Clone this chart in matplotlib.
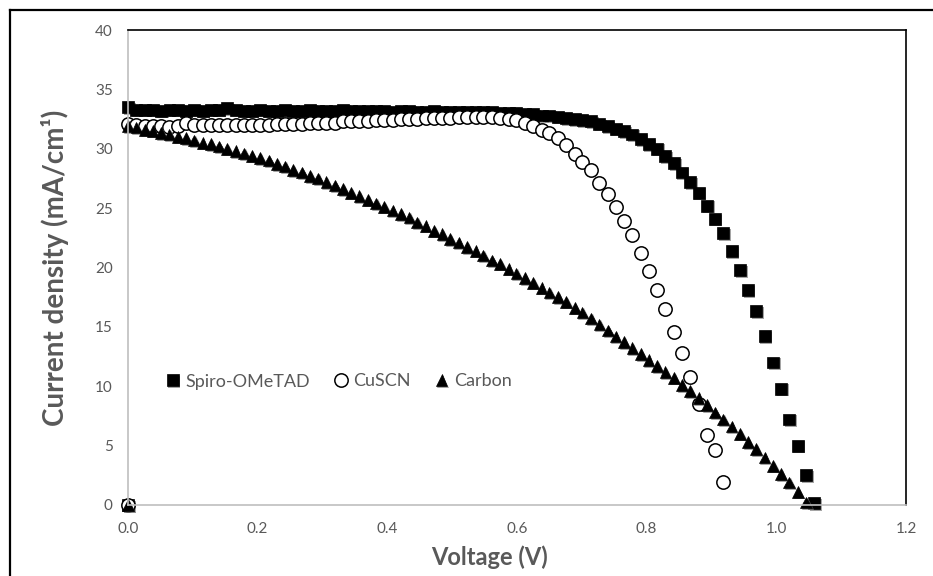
import matplotlib
matplotlib.use("Agg")
import matplotlib.pyplot as plt
import matplotlib.patheffects as pe
from matplotlib.lines import Line2D

# J-V data (first point of each series is the 0,0 point)
voltage = [0.0, 0.0, 0.013, 0.026, 0.038, 0.051, 0.064, 0.077, 0.089, 0.102, 0.115,
           0.128, 0.140, 0.153, 0.166, 0.179, 0.191, 0.204, 0.217, 0.230, 0.242,
           0.255, 0.268, 0.281, 0.293, 0.306, 0.319, 0.332, 0.344, 0.357, 0.370,
           0.383, 0.395, 0.408, 0.421, 0.434, 0.446, 0.459, 0.472, 0.485, 0.497,
           0.510, 0.523, 0.536, 0.548, 0.561, 0.574, 0.587, 0.599, 0.612, 0.625,
           0.638, 0.650, 0.663, 0.676, 0.689, 0.701, 0.714, 0.727, 0.740, 0.752,
           0.765, 0.778, 0.791, 0.803, 0.816, 0.829, 0.842, 0.854, 0.867, 0.880,
           0.893, 0.905, 0.918, 0.931, 0.944, 0.956, 0.969, 0.982, 0.995, 1.007,
           1.020, 1.033, 1.046, 1.058]

spiro = [0.0, 33.5,
         33.3, 33.3, 33.3, 33.2, 33.3, 33.3, 33.2, 33.3, 33.2, 33.3,
         33.3, 33.4, 33.3, 33.2, 33.2, 33.3, 33.2, 33.2, 33.3, 33.2,
         33.2, 33.3, 33.2, 33.2, 33.2, 33.3, 33.2, 33.2, 33.2, 33.2,
         33.2, 33.1, 33.2, 33.2, 33.1, 33.1, 33.2, 33.1, 33.1, 33.1,
         33.1, 33.1, 33.1, 33.1, 33.0, 33.0, 33.0, 32.9, 32.9, 32.8,
         32.8, 32.7, 32.6, 32.5, 32.4, 32.3, 32.1, 31.9, 31.7, 31.5,
         31.2, 30.8, 30.4, 30.0, 29.4, 28.8, 28.0, 27.2, 26.3, 25.2,
         24.1, 22.9, 21.4, 19.8, 18.1, 16.3, 14.2, 12.0, 9.8, 7.2,
         5.0, 2.5, 0.15]

cuscn = [0.0, 32.1,
         32.0, 31.9, 31.9, 31.9, 31.8, 31.9, 32.2, 32.0, 32.0, 32.0,
         32.0, 32.0, 32.0, 32.0, 32.0, 32.0, 32.0, 32.1, 32.1, 32.1,
         32.1, 32.2, 32.2, 32.2, 32.2, 32.3, 32.3, 32.3, 32.3, 32.4,
         32.4, 32.4, 32.5, 32.5, 32.5, 32.6, 32.6, 32.6, 32.6, 32.7,
         32.7, 32.7, 32.7, 32.7, 32.6, 32.5, 32.4, 32.2, 31.9, 31.6,
         31.3, 30.9, 30.3, 29.6, 28.9, 28.2, 27.1, 26.2, 25.1, 23.9,
         22.7, 21.2, 19.7, 18.1, 16.5, 14.6, 12.8, 10.8, 8.5, 5.9,
         4.6, 1.9]

carbon = [0.0, 31.9,
          31.8, 31.6, 31.5, 31.3, 31.2, 31.0, 30.9, 30.7, 30.5, 30.4,
          30.2, 30.0, 29.8, 29.6, 29.4, 29.2, 29.0, 28.7, 28.5, 28.2,
          28.0, 27.7, 27.5, 27.2, 26.9, 26.6, 26.3, 26.0, 25.7, 25.4,
          25.1, 24.8, 24.5, 24.2, 23.8, 23.5, 23.1, 22.8, 22.4, 22.1,
          21.7, 21.4, 21.0, 20.6, 20.3, 19.9, 19.5, 19.1, 18.7, 18.3,
          17.9, 17.5, 17.1, 16.6, 16.2, 15.7, 15.2, 14.7, 14.2, 13.7,
          13.2, 12.7, 12.2, 11.7, 11.2, 10.7, 10.1, 9.6, 9.0, 8.4,
          7.8, 7.2, 6.6, 6.0, 5.3, 4.7, 4.0, 3.3, 2.6, 1.9,
          1.1, 0.2]

labels = ['Spiro-OMeTAD', 'CuSCN', 'Carbon']
x_ticks = [0.0, 0.2, 0.4, 0.6, 0.8, 1.0, 1.2]
y_ticks = [0, 5, 10, 15, 20, 25, 30, 35, 40]

plt.rcParams['font.family'] = ['Lato', 'DejaVu Sans']
grey = '#595959'

fig = plt.figure(figsize=(9.33, 5.76), dpi=100)
ax = fig.add_axes([128/933, 1 - 505/576, 778/933, 475/576])

shadow = [pe.SimplePatchShadow(offset=(1.2, -1.2), shadow_rgbFace='#7f7f7f', alpha=0.7), pe.Normal()]

ax.plot(voltage[:len(spiro)], spiro, ls='none', marker='s', ms=8.6,
        mfc='black', mec='black', mew=0.5, label=labels[0], path_effects=shadow, clip_on=False)
ax.plot(voltage[:len(cuscn)], cuscn, ls='none', marker='o', ms=9.6,
        mfc='white', mec='black', mew=1.1, label=labels[1], clip_on=False)
ax.plot(voltage[:len(carbon)], carbon, ls='none', marker='^', ms=8.4,
        mfc='black', mec='black', mew=0.5, label=labels[2], path_effects=shadow, clip_on=False)

ax.set_xlim(0, 1.2)
ax.set_ylim(0, 40)
ax.set_xticks(x_ticks)
ax.set_xticklabels([f'{t:.1f}' for t in x_ticks])
ax.set_yticks(y_ticks)
ax.tick_params(length=0, labelsize=11, colors=grey)
ax.tick_params(axis='x', pad=12)
ax.tick_params(axis='y', pad=11)

for side in ['left', 'bottom']:
    ax.spines[side].set_color('#bfbfbf')
    ax.spines[side].set_linewidth(1.2)
for side in ['top', 'right']:
    ax.spines[side].set_color('black')
    ax.spines[side].set_linewidth(1.2)

ax.set_xlabel('Voltage (V)', fontsize=17, fontweight='bold', color=grey)
ax.set_ylabel('Current density (mA/cm¹)', fontsize=20, fontweight='bold', color=grey)
ax.xaxis.set_label_coords(0.465, -0.086)
ax.yaxis.set_label_coords(-0.076, 0.5)

leg = ax.legend(loc='center left', bbox_to_anchor=(0.025, 0.26), ncol=3, frameon=False,
                fontsize=13, handletextpad=0.2, columnspacing=1.2, handlelength=1.0,
                labelcolor=grey)

# outer chart border (cropped on right/bottom in the reference)
fig.add_artist(Line2D([10/933, 10/933], [0, 1 - 10/576], color='black', lw=1.6))
fig.add_artist(Line2D([10/933, 1], [1 - 10/576, 1 - 10/576], color='black', lw=1.6))

fig.savefig('out.png', dpi=100)
